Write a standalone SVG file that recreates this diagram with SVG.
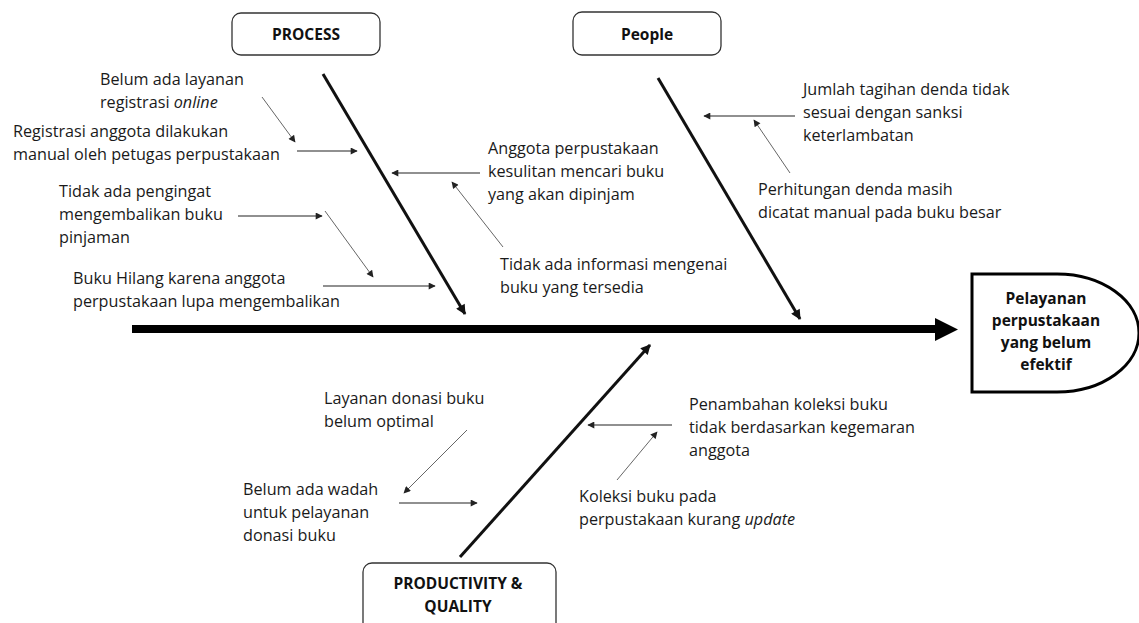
<svg xmlns="http://www.w3.org/2000/svg" width="1139" height="623" viewBox="0 0 1139 623">
<defs>
<style>
.t{font-family:"Open Sans","Noto Sans","Liberation Sans",sans-serif;font-size:16.2px;fill:#1a1a1a}
.b{font-family:"Open Sans","Noto Sans","Liberation Sans",sans-serif;font-size:15.5px;font-weight:bold;fill:#111;text-anchor:middle}
.e{font-size:15.5px}
.box{fill:#fff;stroke:#333;stroke-width:1.3}
.bone{stroke:#111;stroke-width:3;fill:none}
.h{stroke:#222;stroke-width:1.2;fill:none}
.d{stroke:#666;stroke-width:1;fill:none}
</style>
<marker id="ab" viewBox="0 0 10 10" refX="9" refY="5" markerWidth="12" markerHeight="10" markerUnits="userSpaceOnUse" orient="auto"><path d="M0,0 L10,5 L0,10 z" fill="#111"/></marker>
<marker id="as" viewBox="0 0 10 10" refX="9" refY="5" markerWidth="9" markerHeight="7" markerUnits="userSpaceOnUse" orient="auto"><path d="M0,0 L10,5 L0,10 z" fill="#222"/></marker>
</defs>
<rect width="1139" height="623" fill="#fff"/>

<g id="connectors">
<line x1="132" y1="329" x2="938" y2="329" stroke="#000" stroke-width="8"/>
<polygon points="935,318 958,329.5 935,341" fill="#000"/>
<line class="bone" x1="323" y1="74" x2="465" y2="314" marker-end="url(#ab)"/>
<line class="bone" x1="658" y1="78" x2="800" y2="319" marker-end="url(#ab)"/>
<line class="bone" x1="460" y1="557" x2="650" y2="345" marker-end="url(#ab)"/>
<line class="d" x1="262" y1="97" x2="295" y2="142" marker-end="url(#as)"/>
<line class="h" x1="297" y1="151" x2="357" y2="151" marker-end="url(#as)"/>
<line class="h" x1="480" y1="173" x2="392" y2="173" marker-end="url(#as)"/>
<line class="h" x1="238" y1="216" x2="322" y2="216" marker-end="url(#as)"/>
<line class="d" x1="325" y1="211" x2="373" y2="277" marker-end="url(#as)"/>
<line class="h" x1="323" y1="286" x2="435" y2="286" marker-end="url(#as)"/>
<line class="d" x1="503" y1="247" x2="452" y2="182" marker-end="url(#as)"/>
<line class="h" x1="795" y1="116" x2="704" y2="116" marker-end="url(#as)"/>
<line class="d" x1="790" y1="173" x2="754" y2="120" marker-end="url(#as)"/>
<line class="d" x1="467" y1="430" x2="404" y2="493" marker-end="url(#as)"/>
<line class="h" x1="399" y1="503" x2="477" y2="503" marker-end="url(#as)"/>
<line class="h" x1="672" y1="425" x2="588" y2="425" marker-end="url(#as)"/>
<line class="d" x1="617" y1="480" x2="657" y2="432" marker-end="url(#as)"/>
</g>

<g id="process">
<rect class="box" x="232" y="13" width="148" height="42" rx="9"/>
<text class="b" x="306" y="40">PROCESS</text>
</g>
<g id="people">
<rect class="box" x="573" y="12" width="148" height="43" rx="9"/>
<text class="b" x="647" y="40">People</text>
</g>
<g id="productivity">
<rect class="box" x="363" y="563" width="193" height="70" rx="9"/>
<text class="b" x="458" y="589">PRODUCTIVITY &amp;</text>
<text class="b" x="458" y="612">QUALITY</text>
</g>
<g id="effect">
<path d="M972,274 H1057 A82,59 0 0 1 1057,392 H972 Z" fill="#fff" stroke="#000" stroke-width="3"/>
<text class="b e" x="1046" y="304">Pelayanan</text>
<text class="b e" x="1046" y="326">perpustakaan</text>
<text class="b e" x="1046" y="348">yang belum</text>
<text class="b e" x="1046" y="370">efektif</text>
</g>

<g id="cause-process-1"><text class="t" x="100" y="85">Belum ada layanan</text><text class="t" x="100" y="108">registrasi <tspan font-style="italic">online</tspan></text></g>
<g id="cause-process-2"><text class="t" x="13" y="137">Registrasi anggota dilakukan</text><text class="t" x="13" y="160">manual oleh petugas perpustakaan</text></g>
<g id="cause-process-3"><text class="t" x="59" y="197">Tidak ada pengingat</text><text class="t" x="59" y="220">mengembalikan buku</text><text class="t" x="59" y="243">pinjaman</text></g>
<g id="cause-process-4"><text class="t" x="73" y="284">Buku Hilang karena anggota</text><text class="t" x="73" y="307">perpustakaan lupa mengembalikan</text></g>
<g id="cause-process-5"><text class="t" x="488" y="154">Anggota perpustakaan</text><text class="t" x="488" y="177">kesulitan mencari buku</text><text class="t" x="488" y="200">yang akan dipinjam</text></g>
<g id="cause-process-6"><text class="t" x="500" y="270">Tidak ada informasi mengenai</text><text class="t" x="500" y="293">buku yang tersedia</text></g>
<g id="cause-people-1"><text class="t" x="803" y="95">Jumlah tagihan denda tidak</text><text class="t" x="803" y="118">sesuai dengan sanksi</text><text class="t" x="803" y="141">keterlambatan</text></g>
<g id="cause-people-2"><text class="t" x="758" y="195">Perhitungan denda masih</text><text class="t" x="758" y="218">dicatat manual pada buku besar</text></g>
<g id="cause-prod-1"><text class="t" x="324" y="404">Layanan donasi buku</text><text class="t" x="324" y="427">belum optimal</text></g>
<g id="cause-prod-2"><text class="t" x="243" y="495">Belum ada wadah</text><text class="t" x="243" y="518">untuk pelayanan</text><text class="t" x="243" y="541">donasi buku</text></g>
<g id="cause-prod-3"><text class="t" x="689" y="410">Penambahan koleksi buku</text><text class="t" x="689" y="433">tidak berdasarkan kegemaran</text><text class="t" x="689" y="456">anggota</text></g>
<g id="cause-prod-4"><text class="t" x="579" y="502">Koleksi buku pada</text><text class="t" x="579" y="525">perpustakaan kurang <tspan font-style="italic">update</tspan></text></g>
</svg>
